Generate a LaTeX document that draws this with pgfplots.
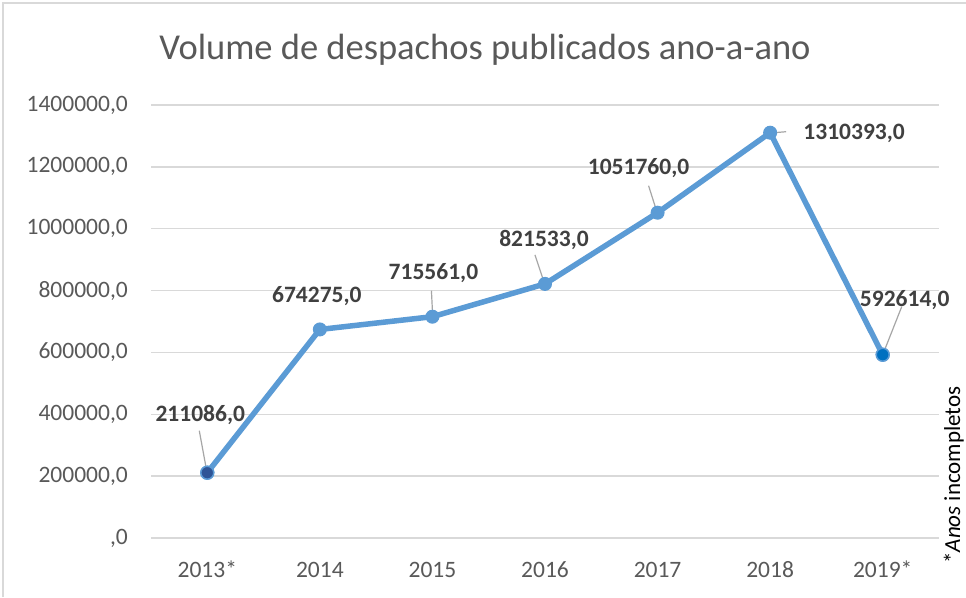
\documentclass[border=0pt]{standalone}
\usepackage{fontspec}
\setmainfont{Carlito}
\usepackage{pgfplots}
\pgfplotsset{compat=1.18}
\usepackage{pgfplotstable}
\definecolor{lineblue}{HTML}{5B9BD5}
\definecolor{darkblue}{HTML}{2F5597}
\definecolor{midblue}{HTML}{0070C0}
\definecolor{gridgray}{HTML}{D9D9D9}
\definecolor{txtgray}{HTML}{595959}
\definecolor{lblgray}{HTML}{404040}
\definecolor{leadgray}{HTML}{A6A6A6}

\pgfplotstableread{
x y lbl dx dy
0 211086 211086,0 -7 58
1 674275 674275,0 -3 33
2 715561 715561,0 1 44
3 821533 821533,0 -1 44
4 1051760 1051760,0 -19 45
5 1310393 1310393,0 84 -1
6 592614 592614,0 22 55
}\datatable

\begin{document}
\begin{tikzpicture}[x=1pt,y=1pt]
\useasboundingbox (0,0) rectangle (966,597);
\fill[white] (0,0) rectangle (966,597);
\draw[gridgray, line width=1.2pt] (3,0) -- (3,594) -- (966,594);
\node[font=\fontsize{36.5}{42}\selectfont, text=txtgray] at (485,547) {Volume de despachos publicados ano-a-ano};
\node[rotate=90, anchor=base, inner sep=0pt, font=\fontsize{23}{27}\selectfont, text=black] at (960,122) {*\textit{Anos} incompletos};
\begin{axis}[
  at={(151pt,59pt)}, anchor=south west,
  scale only axis, width=788pt, height=433pt,
  xmin=-0.5, xmax=6.5, ymin=0, ymax=1400000,
  axis line style={draw=none},
  major tick length=0pt,
  ymajorgrids, grid style={gridgray, line width=1.3pt},
  xtick={0,1,2,3,4,5,6},
  xticklabels={2013*,2014,2015,2016,2017,2018,2019*},
  ytick={0,200000,400000,600000,800000,1000000,1200000,1400000},
  yticklabels={{,0},{200000,0},{400000,0},{600000,0},{800000,0},{1000000,0},{1200000,0},{1400000,0}},
  scaled y ticks=false,
  x tick label style={font=\fontsize{23.5}{28}\selectfont, text=txtgray, anchor=base, inner sep=0pt, yshift=-39pt},
  y tick label style={font=\fontsize{23.5}{28}\selectfont, text=txtgray, anchor=east, inner sep=0pt, xshift=-23pt},
  clip=false,
]
\addplot[lineblue, line width=5.5pt, mark=*, mark size=6.5pt,
  mark options={fill=lineblue, draw=lineblue, line width=1pt},
  point meta=explicit symbolic,
  visualization depends on={\thisrow{dx}\as\dx},
  visualization depends on={\thisrow{dy}\as\dy},
  nodes near coords,
  every node near coord/.append style={anchor=center, xshift=\dx pt, yshift=\dy pt,
    font=\fontsize{23.5}{28}\selectfont\bfseries, text=lblgray, inner sep=0pt},
] table[x=x, y=y, meta=lbl] {\datatable};
\addplot[only marks, mark=*, mark size=6.5pt, mark options={fill=darkblue, draw=lineblue, line width=1.5pt}] coordinates {(0,211086)};
\addplot[only marks, mark=*, mark size=6.5pt, mark options={fill=midblue, draw=lineblue, line width=1.5pt}] coordinates {(6,592614)};
\draw[leadgray, line width=1.2pt] (axis cs:0,211086) ++(-1pt,4pt) -- ++(-7pt,38pt);
\draw[leadgray, line width=1.2pt] (axis cs:2,715561) ++(0pt,6pt) -- ++(-1pt,20pt);
\draw[leadgray, line width=1.2pt] (axis cs:3,821533) ++(-2pt,5pt) -- ++(-8pt,24pt);
\draw[leadgray, line width=1.2pt] (axis cs:4,1051760) ++(-2pt,5pt) -- ++(-7pt,22pt);
\draw[leadgray, line width=1.2pt] (axis cs:5,1310393) ++(4pt,0pt) -- ++(12pt,1pt);
\draw[leadgray, line width=1.2pt] (axis cs:6,592614) ++(2pt,5pt) -- ++(17pt,43pt);
\end{axis}
\end{tikzpicture}
\end{document}
